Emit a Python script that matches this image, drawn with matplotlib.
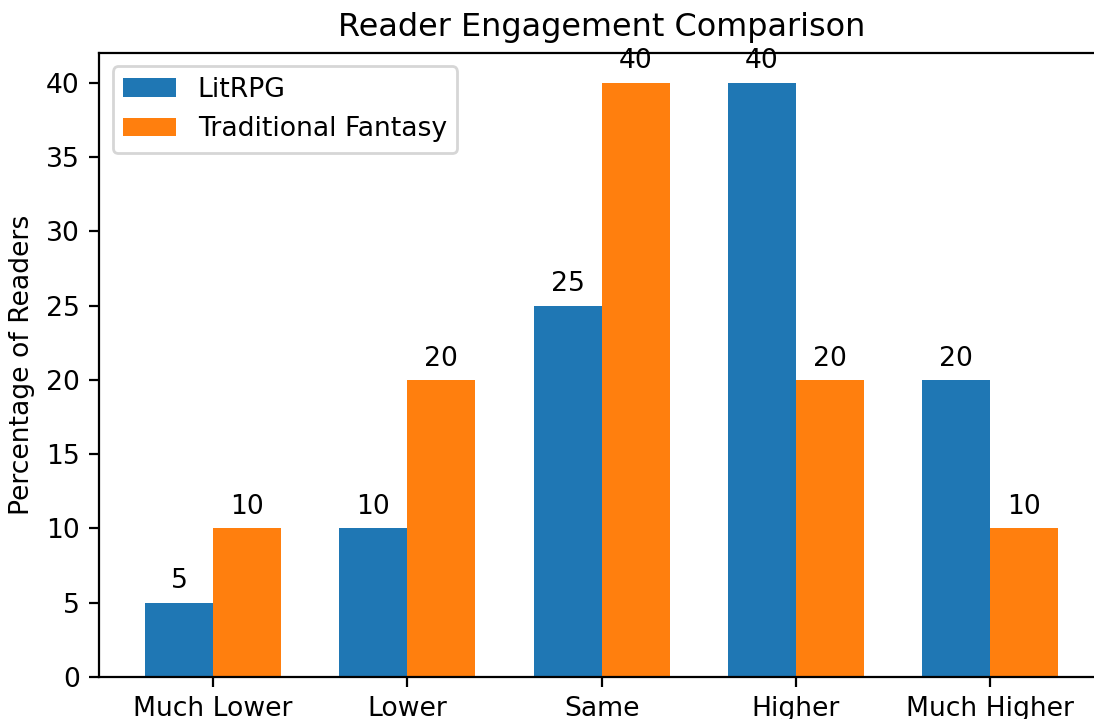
import numpy as np
import matplotlib
matplotlib.use("Agg")
import matplotlib.pyplot as plt

# Reader engagement ratings
categories = ["Much Lower", "Lower", "Same", "Higher", "Much Higher"]
litrpg = [5, 10, 25, 40, 20]
traditional = [10, 20, 40, 20, 10]

plt.rcParams["font.size"] = 9.57

x = np.arange(len(categories))
width = 0.35

fig = plt.figure(figsize=(5.47, 3.595), dpi=200)
# the original was cropped on the right and bottom, so the axes run past the edge
ax = fig.add_axes([99.3 / 1094, 42 / 719, 1004.6 / 1094, 624 / 719])

bars1 = ax.bar(x - width / 2, litrpg, width, label="LitRPG")
bars2 = ax.bar(x + width / 2, traditional, width, label="Traditional Fantasy")

for bars in (bars1, bars2):
    for bar in bars:
        h = bar.get_height()
        ax.annotate(f"{h}", xy=(bar.get_x() + bar.get_width() / 2, h),
                    xytext=(0, 3), textcoords="offset points",
                    ha="center", va="bottom")

ax.set_ylabel("Percentage of Readers")
ax.set_title("Reader Engagement Comparison")
ax.set_xticks(x)
ax.set_xticklabels(categories)
ax.legend(loc="upper left")

fig.savefig("out.png", dpi=200)
